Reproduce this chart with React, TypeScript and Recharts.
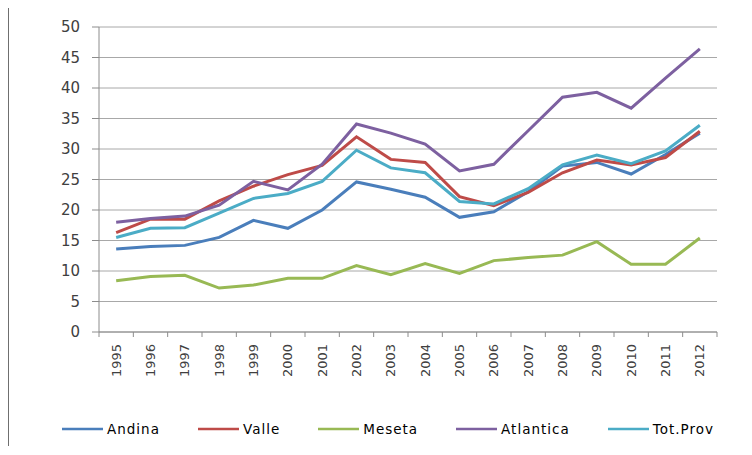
import { LineChart, Line, XAxis, YAxis, CartesianGrid, Legend } from 'recharts';

const years = [
  '1995', '1996', '1997', '1998', '1999', '2000', '2001', '2002', '2003',
  '2004', '2005', '2006', '2007', '2008', '2009', '2010', '2011', '2012',
];
const andina = [13.6, 14.0, 14.2, 15.5, 18.3, 17.0, 20.0, 24.6, 23.4, 22.1, 18.8, 19.7, 23.0, 27.2, 27.8, 25.9, 29.1, 32.6];
const valle = [16.3, 18.5, 18.5, 21.5, 23.9, 25.8, 27.3, 32.0, 28.3, 27.8, 22.2, 20.7, 22.9, 26.1, 28.2, 27.4, 28.6, 32.9];
const meseta = [8.4, 9.1, 9.3, 7.2, 7.7, 8.8, 8.8, 10.9, 9.4, 11.2, 9.6, 11.7, 12.2, 12.6, 14.8, 11.1, 11.1, 15.4];
const atlantica = [18.0, 18.6, 19.0, 20.8, 24.7, 23.3, 27.5, 34.1, 32.6, 30.8, 26.4, 27.5, 33.0, 38.5, 39.3, 36.7, 41.6, 46.4];
const totProv = [15.5, 17.0, 17.1, 19.5, 21.9, 22.7, 24.7, 29.8, 26.9, 26.1, 21.4, 21.0, 23.5, 27.4, 29.0, 27.6, 29.7, 33.9];
const yTicks = [0, 5, 10, 15, 20, 25, 30, 35, 40, 45, 50];

const series = [
  { key: 'andina', name: 'Andina', color: '#4a7ebb', values: andina },
  { key: 'valle', name: 'Valle', color: '#be4b48', values: valle },
  { key: 'meseta', name: 'Meseta', color: '#98b954', values: meseta },
  { key: 'atlantica', name: 'Atlantica', color: '#7d60a0', values: atlantica },
  { key: 'totProv', name: 'Tot.Prov', color: '#4bacc6', values: totProv },
];

const data = years.map((year, i) => {
  const row: Record<string, number | string> = { x: i, year };
  series.forEach((s) => {
    row[s.key] = s.values[i];
  });
  return row;
});

// integer ticks carry the year labels, half ticks the small marks between categories
const xTicks: number[] = [];
for (let i = 0; i <= years.length; i++) {
  xTicks.push(i - 0.5);
  if (i < years.length) xTicks.push(i);
}

const AXIS = '#8c8c8c';
const GRID = '#a8a8a8';
const FRAME = '#6f6f6f';

function XTick(props: any) {
  const { x, y, payload } = props;
  const v = payload.value as number;
  if (!Number.isInteger(v)) {
    return <line x1={x} x2={x} y1={y} y2={y + 5} stroke={AXIS} strokeWidth={1} />;
  }
  return (
    <text
      transform={`translate(${x},${y + 12}) rotate(-90)`}
      textAnchor="end"
      dominantBaseline="central"
      fontFamily="DejaVu Sans"
      fontSize={13}
      fill="#404040"
    >
      {years[v]}
    </text>
  );
}

function LegendContent() {
  return (
    <div style={{ display: 'flex', alignItems: 'center', height: 30, paddingLeft: 53 }}>
      {series.map((s) => (
        <div key={s.key} style={{ display: 'flex', alignItems: 'center', marginRight: 38 }}>
          <svg width={41} height={6} style={{ marginRight: 4 }}>
            <line x1={0} x2={41} y1={3} y2={3} stroke={s.color} strokeWidth={2.5} />
          </svg>
          <span
            style={{
              fontFamily: 'DejaVu Sans',
              fontSize: 13.5,
              letterSpacing: 1,
              color: '#000',
              lineHeight: '16px',
            }}
          >
            {s.name}
          </span>
        </div>
      ))}
    </div>
  );
}

export default function App() {
  return (
    <div
      style={{
        width: 743,
        height: 438,
        marginTop: -1,
        borderTop: `1px solid ${FRAME}`,
        borderLeft: `1px solid ${FRAME}`,
      }}
    >
      <LineChart width={743} height={437} data={data} margin={{ top: 19, right: 35, left: 0, bottom: 1 }}>
        <CartesianGrid vertical={false} stroke={GRID} />
        <XAxis
          dataKey="x"
          type="number"
          domain={[-0.5, years.length - 0.5]}
          ticks={xTicks}
          interval={0}
          height={82}
          tickLine={false}
          tickSize={0}
          tickMargin={0}
          axisLine={{ stroke: AXIS }}
          tick={<XTick />}
        />
        <YAxis
          type="number"
          domain={[0, 50]}
          ticks={yTicks}
          interval={0}
          width={90}
          tickSize={7}
          tickMargin={12}
          tickLine={{ stroke: AXIS }}
          axisLine={{ stroke: AXIS }}
          tick={{ fontFamily: 'DejaVu Sans', fontSize: 15, fill: '#404040' }}
        />
        <Legend verticalAlign="bottom" height={30} content={<LegendContent />} />
        {series.map((s) => (
          <Line
            key={s.key}
            type="linear"
            dataKey={s.key}
            name={s.name}
            stroke={s.color}
            strokeWidth={3}
            dot={false}
            isAnimationActive={false}
          />
        ))}
      </LineChart>
    </div>
  );
}
